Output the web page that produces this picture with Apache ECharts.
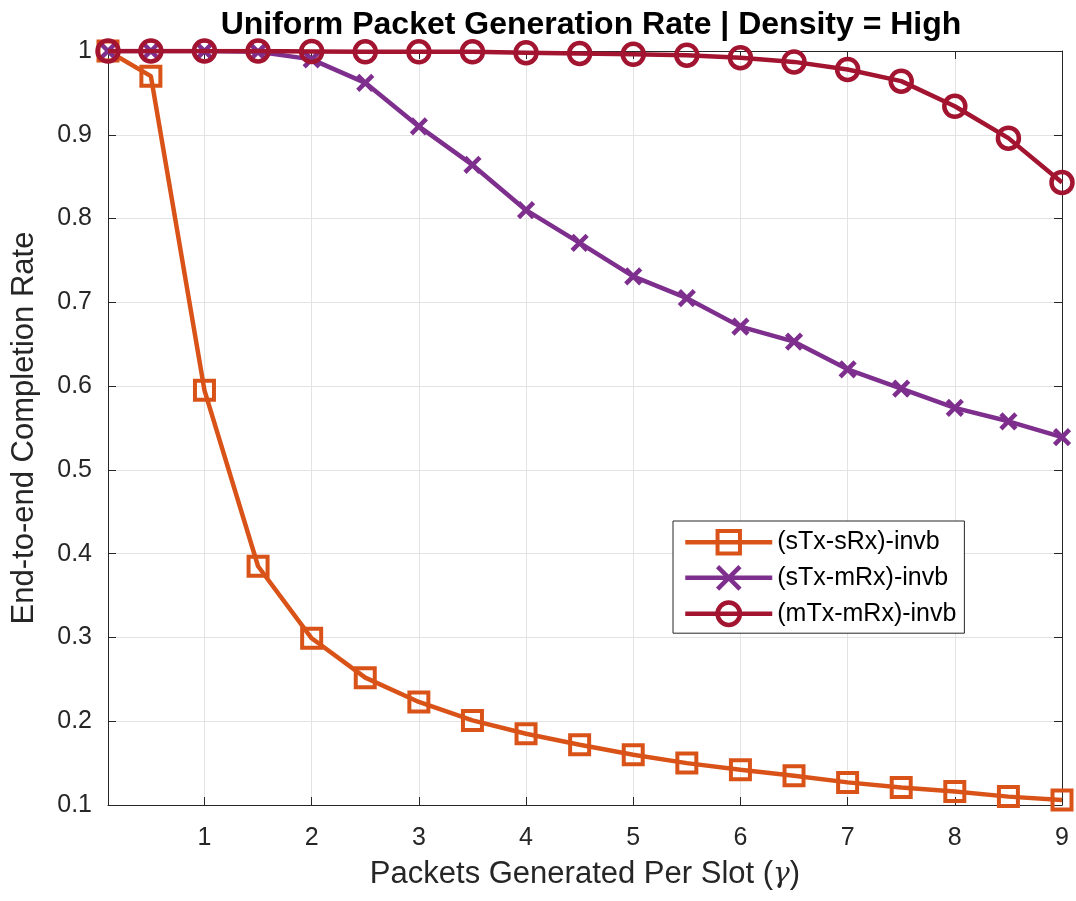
<!DOCTYPE html>
<html><head><meta charset="utf-8">
<script src="https://cdn.jsdelivr.net/npm/echarts@6/dist/echarts.min.js"></script>
<style>html,body{margin:0;padding:0;background:#fff}#c{width:1076px;height:901px}</style>
</head><body><div id="c"></div>
<script>
const xValues = [0.1, 0.5, 1, 1.5, 2, 2.5, 3, 3.5, 4, 4.5, 5, 5.5, 6, 6.5, 7, 7.5, 8, 8.5, 9];
const sTxsRx = [1.0, 0.970, 0.595, 0.385, 0.299, 0.252, 0.223, 0.201, 0.185, 0.172, 0.160, 0.150, 0.142, 0.135, 0.127, 0.121, 0.116, 0.110, 0.106];
const sTxmRx = [1.0, 1.0, 1.0, 0.999, 0.990, 0.962, 0.910, 0.864, 0.810, 0.771, 0.731, 0.705, 0.671, 0.653, 0.620, 0.597, 0.574, 0.558, 0.539];
const mTxmRx = [1.0, 1.0, 1.0, 1.0, 0.9995, 0.999, 0.999, 0.999, 0.998, 0.997, 0.996, 0.995, 0.992, 0.987, 0.978, 0.964, 0.934, 0.896, 0.843];
const seriesNames = ['(sTx-sRx)-invb', '(sTx-mRx)-invb', '(mTx-mRx)-invb'];
const xTicks = [1, 2, 3, 4, 5, 6, 7, 8, 9];
const titleText = 'Uniform Packet Generation Rate | Density = High';

const FONT = 'Liberation Sans, Arial, sans-serif';
const AX = '#262626';
const GRIDC = '#e3e3e3';
function pairs(ys){ return xValues.map((x,i)=>[x, ys[i]]); }

const chart = echarts.init(document.getElementById('c'), null, {renderer:'canvas'});
const xCommon = {
  type:'value', min:0.1, max:9,
  axisLine:{show:true, onZero:false, lineStyle:{color:AX, width:1}},
  axisTick:{show:true, inside:true, length:8, customValues:xTicks, lineStyle:{color:AX}},
  axisLabel:{show:true, customValues:xTicks, color:AX, fontSize:25, fontFamily:FONT, margin:21},
  splitLine:{show:true, lineStyle:{color:GRIDC, width:1}}
};
const yCommon = {
  type:'value', min:0.1, max:1, interval:0.1,
  axisLine:{show:true, onZero:false, lineStyle:{color:AX, width:1}},
  axisTick:{show:true, inside:true, length:8, lineStyle:{color:AX}},
  axisLabel:{show:true, color:AX, fontSize:25, fontFamily:FONT, margin:16,
    formatter:v=>String(parseFloat(v.toFixed(2)))},
  splitLine:{show:true, lineStyle:{color:GRIDC, width:1}}
};
chart.setOption({
  animation:false,
  backgroundColor:'#fff',
  title:{text:titleText, left:586, top:4, textAlign:'center',
    textStyle:{fontFamily:FONT, fontWeight:'bold', fontSize:32, color:'#000'}},
  grid:{left:108, right:14, top:51, bottom:96, containLabel:false},
  xAxis:[
    Object.assign({}, xCommon, {position:'bottom',
      name:'Packets Generated Per Slot ({g|γ})', nameLocation:'middle', nameGap:54,
      nameTextStyle:{color:AX, fontSize:31, fontFamily:FONT,
        rich:{g:{fontFamily:'DejaVu Serif, serif', fontStyle:'italic', fontSize:28, color:AX}}}}),
    Object.assign({}, xCommon, {position:'top', axisLabel:{show:false, customValues:xTicks}, splitLine:{show:false}})
  ],
  yAxis:[
    Object.assign({}, yCommon, {position:'left',
      name:'End-to-end Completion Rate', nameLocation:'middle', nameGap:68,
      nameTextStyle:{color:AX, fontSize:31, fontFamily:FONT}}),
    Object.assign({}, yCommon, {position:'right', axisLabel:{show:false}, splitLine:{show:false}})
  ],
  legend:{
    orient:'vertical', left:673, top:521,
    backgroundColor:'#fff', borderColor:AX, borderWidth:1,
    padding:[8, 8, 6, 10], itemGap:9, itemWidth:87, itemHeight:28,
    textStyle:{fontFamily:FONT, fontSize:25, color:'#000'},
    lineStyle:{width:'inherit'},
    itemStyle:{borderWidth:'inherit'},
    data:seriesNames
  },
  series:[
    {name:seriesNames[0], type:'line', data:pairs(sTxsRx), symbol:'rect', symbolSize:19,
      lineStyle:{color:'#D95319', width:4.5}, itemStyle:{color:'rgba(255,255,255,0)', borderColor:'#D95319', borderWidth:4},
      z:2},
    {name:seriesNames[1], type:'line', data:pairs(sTxmRx), symbol:'path://M0,0L10,10M10,0L0,10', symbolSize:15,
      lineStyle:{color:'#7E2F8E', width:4.5}, itemStyle:{color:'rgba(255,255,255,0)', borderColor:'#7E2F8E', borderWidth:4.5},
      z:3},
    {name:seriesNames[2], type:'line', data:pairs(mTxmRx), symbol:'circle', symbolSize:21,
      lineStyle:{color:'#A2142F', width:4.5}, itemStyle:{color:'rgba(255,255,255,0)', borderColor:'#A2142F', borderWidth:4.5},
      z:4}
  ]
});
</script></body></html>
